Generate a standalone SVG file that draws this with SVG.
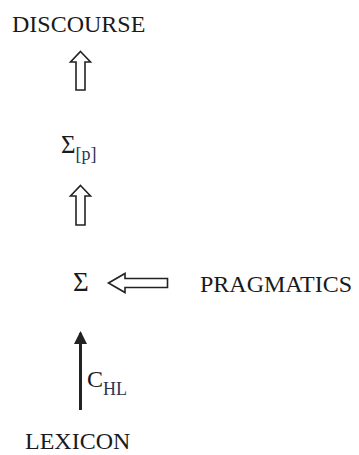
<svg xmlns="http://www.w3.org/2000/svg" width="359" height="455" viewBox="0 0 359 455">
<defs>
<style>
.t{font-family:"Liberation Serif","Times New Roman",serif;font-size:24px;fill:#1a1a1a}
.s{font-family:"Liberation Serif","Times New Roman",serif;font-size:18px;fill:#2c3550}
.h{fill:#fff;stroke:#222;stroke-width:1.6;stroke-linejoin:miter}
</style>
<marker id="ah" markerWidth="13" markerHeight="13" refX="11" refY="6.5" orient="auto" markerUnits="userSpaceOnUse" viewBox="0 0 13 13">
<path d="M0,0 L13,6.5 L0,13 Z" fill="#222"/>
</marker>
</defs>
<rect width="359" height="455" fill="#fff"/>
<g id="discourse"><text class="t" x="12" y="32">DISCOURSE</text></g>
<g id="sigma-p"><text class="t" x="61" y="153" style="font-size:25px">Σ<tspan class="s" dy="7">[p]</tspan></text></g>
<g id="sigma"><text class="t" x="73" y="291" style="font-size:27px">Σ</text></g>
<g id="pragmatics"><text class="t" x="200" y="292">PRAGMATICS</text></g>
<g id="lexicon"><text class="t" x="25" y="449">LEXICON</text></g>
<g id="connectors">
<path class="h" d="M80.5,51.5 L90.5,62 L85,62 L85,90 L76,90 L76,62 L70.5,62 Z"/>
<path class="h" d="M80.5,185.5 L90.5,196 L85,196 L85,225 L76,225 L76,196 L70.5,196 Z"/>
<path class="h" d="M108.5,283 L125,273.5 L125,278.5 L167.5,278.5 L167.5,287.5 L125,287.5 L125,292.5 Z"/>
<line x1="80.5" y1="410" x2="80.5" y2="333" stroke="#222" stroke-width="3" marker-end="url(#ah)"/>
<text class="t" x="87" y="387">C<tspan class="s" dy="8">HL</tspan></text>
</g>
</svg>
